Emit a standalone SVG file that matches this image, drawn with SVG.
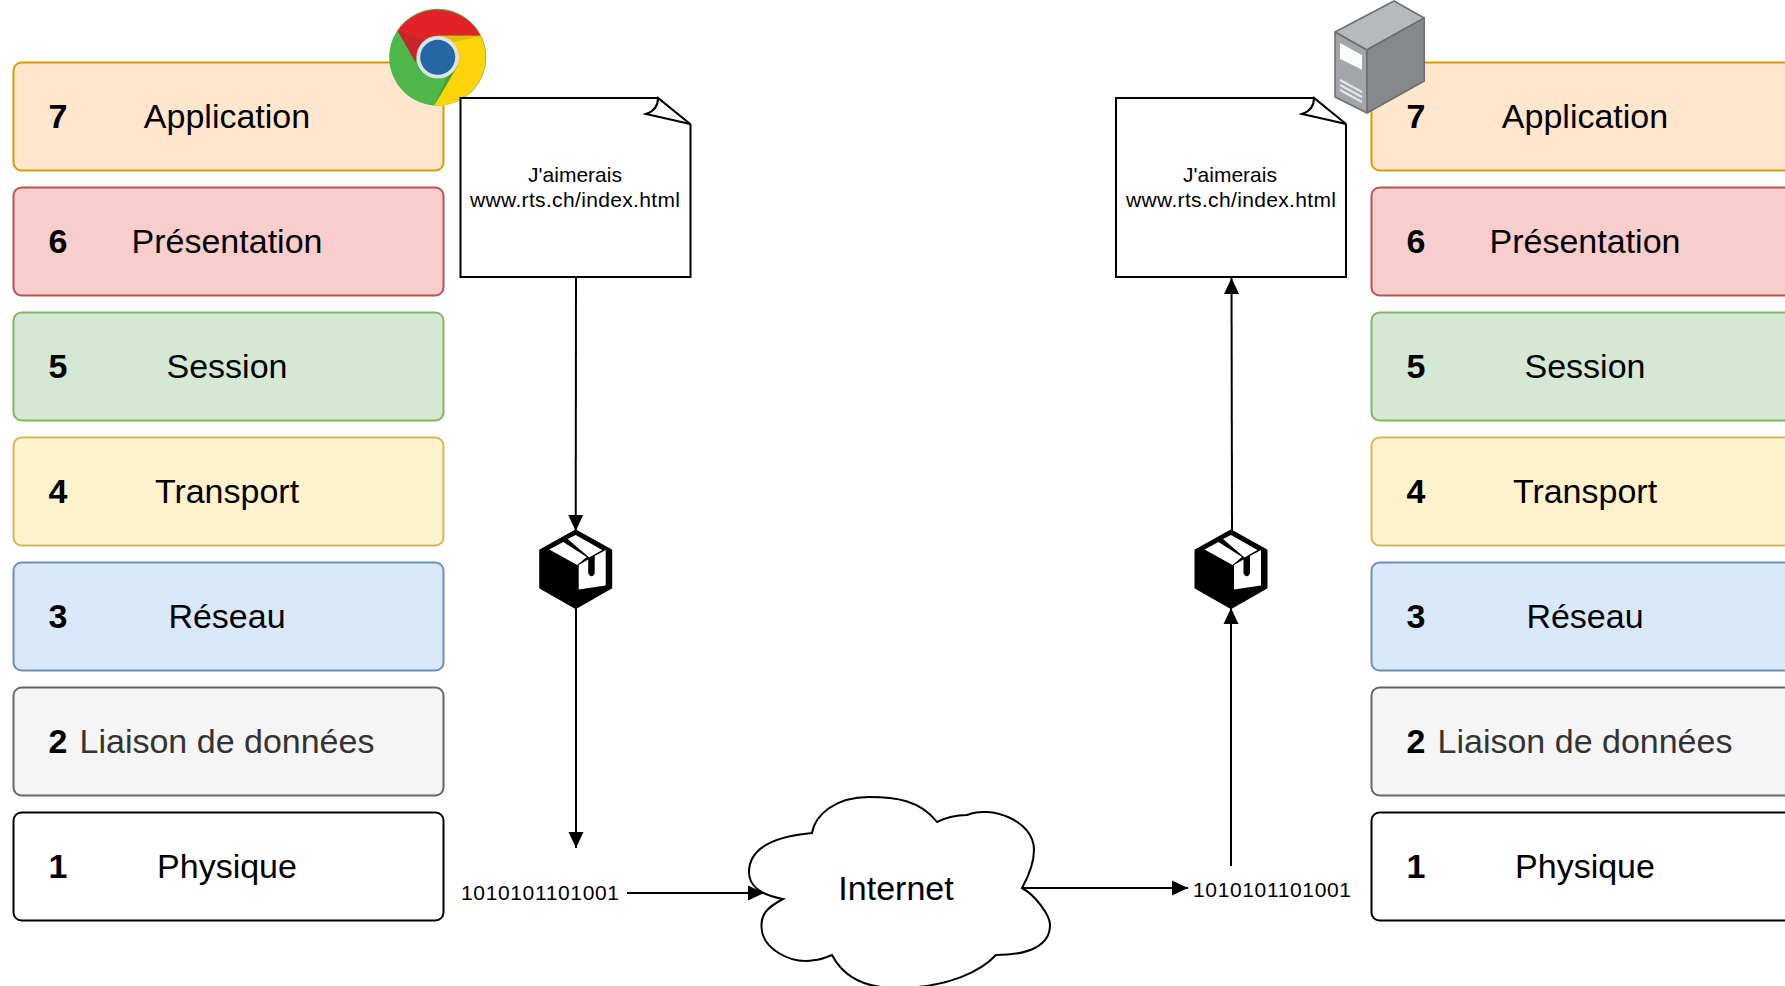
<svg xmlns="http://www.w3.org/2000/svg" width="1785" height="986" viewBox="0 0 1785 986">
<style>
text{font-family:"Liberation Sans",Arial,sans-serif;fill:#000}
.lbl{font-size:34px;text-anchor:middle}
.num{font-size:34px;font-weight:bold;text-anchor:middle}
.box{stroke-width:2}
.small{font-size:21px}
.doc{fill:#fff;stroke:#000;stroke-width:2;stroke-linejoin:miter}
.ln{fill:none;stroke:#000;stroke-width:2}
.o{fill:#ffe6cc;stroke:#d79b00}.r{fill:#f8cecc;stroke:#b85450}.g{fill:#d5e8d4;stroke:#82b366}
.y{fill:#fff2cc;stroke:#d6b656}.b{fill:#dae8fc;stroke:#6c8ebf}.k{fill:#f5f5f5;stroke:#666}.w{fill:#fff;stroke:#000}
.grey{fill:#333}
</style>
<defs>
<marker id="ah" markerUnits="userSpaceOnUse" markerWidth="16" markerHeight="16" refX="16" refY="8" orient="auto" viewBox="0 0 16 16"><path d="M0 0.5L16 8L0 15.5Z" fill="#000"/></marker>
<g id="pkg">
<path d="M0 0L35 19.5V56.5L0 76.5L-35 56.5V19.5Z" fill="#000" stroke="#000" stroke-width="3" stroke-linejoin="round"/>
<path d="M-26.500 18.500L-12.500 11L11 26L1.500 34ZM-8 8L0 4L26.500 19L13.500 26.500Z" fill="#fff"/>
<path d="M3 58.500V34L12.500 28.500V42.500Q16 48 19 42.500V25L30 19V54.500Z" fill="#fff"/>
</g>
<path id="fold" d="M0 0L32 26Q15 22 -12 16Q0 12 0 0Z" fill="#fff" stroke="#000" stroke-width="2" stroke-linejoin="miter"/>
</defs>

<g id="osi-left">
<g id="l7"><rect class="box o" x="13.500" y="62.500" width="430" height="108" rx="8"/><text class="num" x="58" y="128">7</text><text class="lbl" x="227" y="128">Application</text></g>
<g id="l6"><rect class="box r" x="13.500" y="187.500" width="430" height="108" rx="8"/><text class="num" x="58" y="253">6</text><text class="lbl" x="227" y="253">Présentation</text></g>
<g id="l5"><rect class="box g" x="13.500" y="312.500" width="430" height="108" rx="8"/><text class="num" x="58" y="378">5</text><text class="lbl" x="227" y="378">Session</text></g>
<g id="l4"><rect class="box y" x="13.500" y="437.500" width="430" height="108" rx="8"/><text class="num" x="58" y="503">4</text><text class="lbl" x="227" y="503">Transport</text></g>
<g id="l3"><rect class="box b" x="13.500" y="562.500" width="430" height="108" rx="8"/><text class="num" x="58" y="628">3</text><text class="lbl" x="227" y="628">Réseau</text></g>
<g id="l2"><rect class="box k" x="13.500" y="687.500" width="430" height="108" rx="8"/><text class="num" x="58" y="753">2</text><text class="lbl grey" x="227" y="753">Liaison de données</text></g>
<g id="l1"><rect class="box w" x="13.500" y="812.500" width="430" height="108" rx="8"/><text class="num" x="58" y="878">1</text><text class="lbl" x="227" y="878">Physique</text></g>
</g>

<g id="osi-right">
<g id="r7"><rect class="box o" x="1371.500" y="62.500" width="430" height="108" rx="8"/><text class="num" x="1416" y="128">7</text><text class="lbl" x="1585" y="128">Application</text></g>
<g id="r6"><rect class="box r" x="1371.500" y="187.500" width="430" height="108" rx="8"/><text class="num" x="1416" y="253">6</text><text class="lbl" x="1585" y="253">Présentation</text></g>
<g id="r5"><rect class="box g" x="1371.500" y="312.500" width="430" height="108" rx="8"/><text class="num" x="1416" y="378">5</text><text class="lbl" x="1585" y="378">Session</text></g>
<g id="r4"><rect class="box y" x="1371.500" y="437.500" width="430" height="108" rx="8"/><text class="num" x="1416" y="503">4</text><text class="lbl" x="1585" y="503">Transport</text></g>
<g id="r3"><rect class="box b" x="1371.500" y="562.500" width="430" height="108" rx="8"/><text class="num" x="1416" y="628">3</text><text class="lbl" x="1585" y="628">Réseau</text></g>
<g id="r2"><rect class="box k" x="1371.500" y="687.500" width="430" height="108" rx="8"/><text class="num" x="1416" y="753">2</text><text class="lbl grey" x="1585" y="753">Liaison de données</text></g>
<g id="r1"><rect class="box w" x="1371.500" y="812.500" width="430" height="108" rx="8"/><text class="num" x="1416" y="878">1</text><text class="lbl" x="1585" y="878">Physique</text></g>
</g>

<g id="chrome">
<circle cx="437.700" cy="57.300" r="48.500" fill="#4db749"/>
<path d="M397.700 30.700A48.500 48.500 0 0 1 480.500 35.700L437.700 35.700Q420 36 415.500 62Z" fill="#e12229"/>
<path d="M397.700 30.700L415.500 62L425 40Q410 35 397.700 30.700Z" fill="#c4262b"/>
<path d="M480.500 35.700A48.500 48.500 0 0 1 434 105.700L458 65L437.700 35.700Z" fill="#fdd309"/>
<path d="M437.700 36H480.500L450 43Z" fill="#e3bd0b"/>
<path d="M434 105.700L458 65L447 78Z" fill="#3f9c45"/>
<circle cx="437.700" cy="57.300" r="21.300" fill="#dfe3e6"/>
<circle cx="437.700" cy="57.300" r="17.500" fill="#2368a5"/>
</g>

<g id="server">
<path d="M1335 32L1394 1L1424.300 18L1366.700 50Z" fill="#b7b9bb" stroke="#6d6e71" stroke-width="1.500" stroke-linejoin="round"/>
<path d="M1366.700 50L1424.300 18V81L1367 113Z" fill="#86888b" stroke="#6d6e71" stroke-width="1.500" stroke-linejoin="round"/>
<path d="M1335 32L1366.700 50L1367 113L1335 97Z" fill="#a3a5a8" stroke="#6d6e71" stroke-width="1.500" stroke-linejoin="round"/>
<path d="M1340 43L1362 55V70L1340 58ZM1340 55L1362 66V71L1340 60Z" fill="#fff" opacity=".95"/>
<path d="M1340 80L1362 92M1340 85L1362 97M1340 90L1362 102" stroke="#e6e7e8" stroke-width="2" fill="none"/>
<path d="M1340 60L1362 71" stroke="#a3a5a8" stroke-width="2" fill="none"/>
</g>

<g id="doc-left">
<path class="doc" d="M460.500 98H658L690.500 124.500V277H460.500Z"/>
<use href="#fold" x="658" y="98"/>
<text class="small" x="575" y="182" text-anchor="middle">J'aimerais</text>
<text class="small" x="575" y="207" text-anchor="middle" textLength="210">www.rts.ch/index.html</text>
</g>

<g id="doc-right">
<path class="doc" d="M1116 98H1314L1346 124.500V277H1116Z"/>
<use href="#fold" x="1314" y="98"/>
<text class="small" x="1230" y="182" text-anchor="middle">J'aimerais</text>
<text class="small" x="1231" y="207" text-anchor="middle" textLength="210">www.rts.ch/index.html</text>
</g>

<g id="package-left"><use href="#pkg" x="575.700" y="531"/></g>
<g id="package-right"><use href="#pkg" x="1231" y="531"/></g>

<g id="cloud">
<path d="M812 833C780 836 749 845 749 872C749 885 760 895 783 899C766 908 761 915 761.500 927C762 948 790 965 815 960C820 960 827 957 832 955C845 980 870 988 896 988C950 988 982 970 996 955C1030 955 1050 945 1050 925C1050 915 1035 895 1022 888C1032 870 1034 860 1034 850C1034 820 990 805 967 815C955 815 945 818 937 822C920 800 895 797 869 797C835 797 815 815 812 833Z" fill="#fff" stroke="#000" stroke-width="2"/>
<text class="lbl" x="896" y="900">Internet</text>
</g>

<g id="bits-left"><text class="small" x="461" y="900" textLength="158">1010101101001</text></g>
<g id="bits-right"><text class="small" x="1193" y="897" textLength="158">1010101101001</text></g>

<g id="connectors">
<path class="ln" d="M576 277L575.700 531" marker-end="url(#ah)"/>
<path class="ln" d="M576 607V848" marker-end="url(#ah)"/>
<path class="ln" d="M627 893H764" marker-end="url(#ah)"/>
<path class="ln" d="M1022 888H1188" marker-end="url(#ah)"/>
<path class="ln" d="M1231 866V608" marker-end="url(#ah)"/>
<path class="ln" d="M1232 531L1231.500 278" marker-end="url(#ah)"/>
</g>
</svg>
